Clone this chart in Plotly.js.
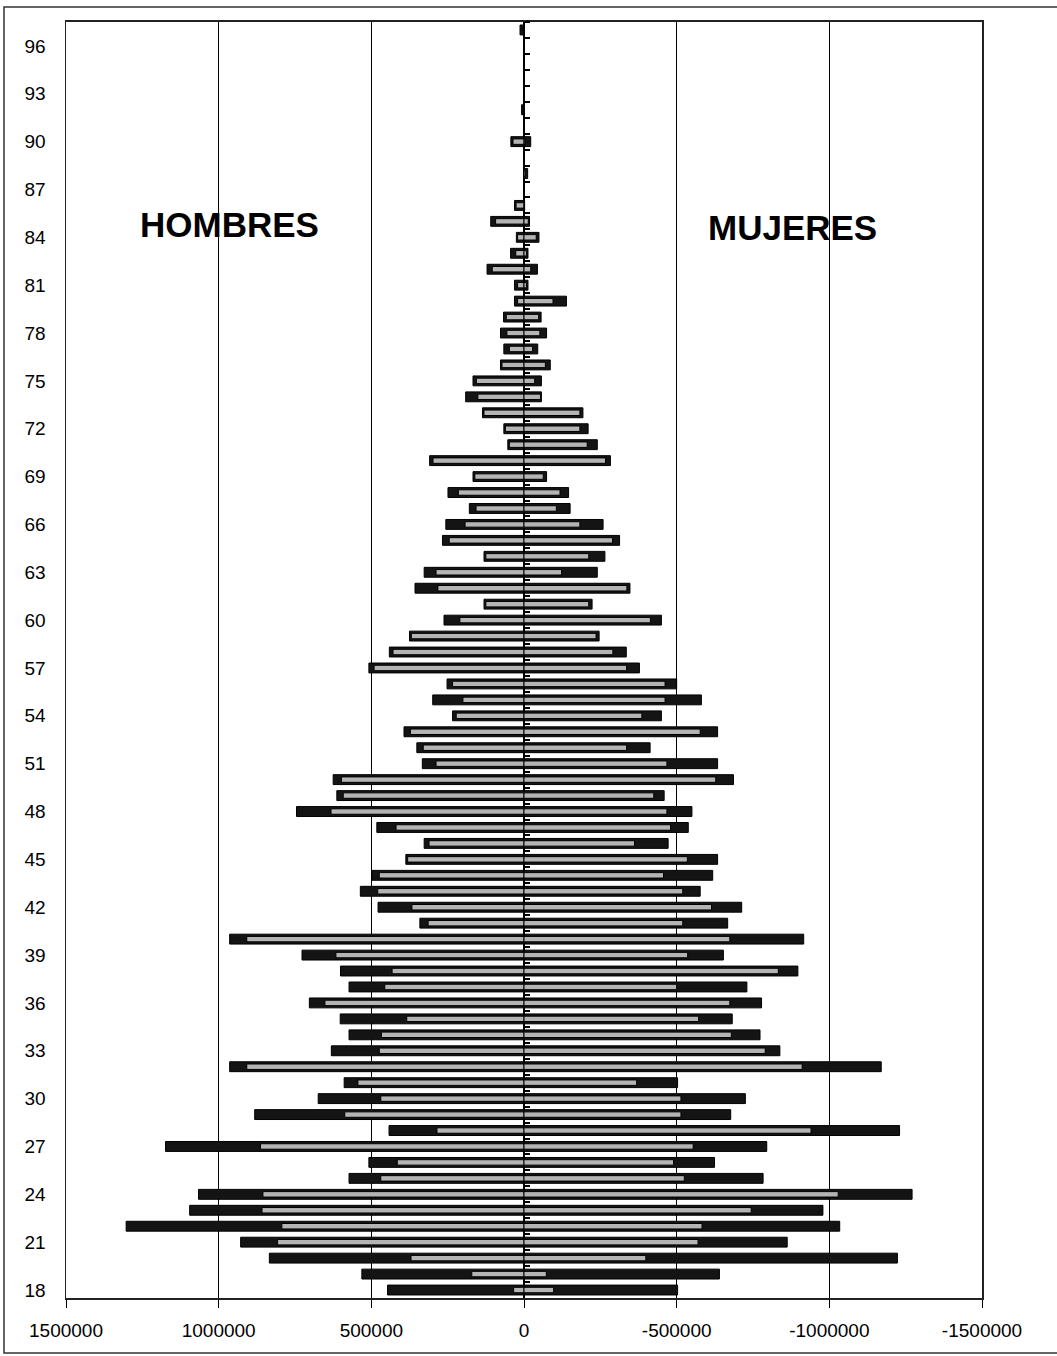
<!DOCTYPE html>
<html>
<head>
<meta charset="utf-8">
<script src="https://cdn.plot.ly/plotly-3.0.1.min.js"></script>
<style>
html,body{margin:0;padding:0;background:#fff;}
#chart{width:1057px;height:1356px;}
</style>
</head>
<body>
<div id="chart"></div>
<script>
const ages = [18,19,20,21,22,23,24,25,26,27,28,29,30,31,32,33,34,35,36,37,38,39,40,41,42,43,44,45,46,47,48,49,50,51,52,53,54,55,56,57,58,59,60,61,62,63,64,65,66,67,68,69,70,71,72,73,74,75,76,77,78,79,80,81,82,83,84,85,86,87,88,89,90,91,92,93,94,95,96,97];

const maleBlack = [447000,531000,834000,928000,1303000,1095000,1066000,573000,508000,1174000,
  442000,882000,674000,589000,964000,631000,573000,602000,703000,573000,
  601000,727000,964000,341000,478000,536000,498000,387000,327000,482000,
  745000,613000,625000,333000,351000,393000,234000,299000,252000,508000,
  441000,375000,262000,131000,357000,327000,131000,267000,256000,179000,
  249000,167000,309000,53000,66000,136000,191000,167000,77000,66000,
  77000,67000,31000,31000,121000,44000,25000,109000,31000,0,
  1000,0,43000,0,8000,0,0,0,0,13000];

const maleGray = [34000,171000,370000,807000,793000,858000,855000,469000,415000,863000,
  285000,587000,469000,544000,908000,474000,467000,384000,652000,456000,
  432000,616000,908000,314000,367000,479000,474000,381000,311000,419000,
  632000,592000,598000,288000,330000,372000,222000,200000,234000,491000,
  429000,369000,210000,125000,282000,288000,125000,245000,193000,157000,
  215000,161000,298000,48000,61000,131000,151000,156000,72000,48000,
  56000,58000,21000,21000,104000,27000,21000,93000,26000,0,
  0,0,36000,0,3000,0,0,0,0,3000];

const femaleBlack = [-503000,-640000,-1223000,-862000,-1034000,-979000,-1271000,-783000,-624000,-795000,
  -1230000,-677000,-725000,-503000,-1170000,-838000,-773000,-682000,-778000,-730000,
  -897000,-653000,-916000,-667000,-713000,-577000,-618000,-634000,-472000,-538000,
  -550000,-459000,-686000,-634000,-413000,-634000,-450000,-581000,-500000,-378000,
  -335000,-246000,-450000,-223000,-347000,-240000,-265000,-313000,-259000,-151000,
  -146000,-74000,-283000,-240000,-210000,-193000,-57000,-57000,-86000,-45000,
  -74000,-56000,-139000,-13000,-44000,-13000,-49000,-18000,-2000,0,
  -12000,0,-22000,0,0,0,0,0,0,-1000];

const femaleGray = [-97000,-73000,-399000,-570000,-583000,-744000,-1029000,-525000,-490000,-554000,
  -940000,-514000,-514000,-369000,-911000,-790000,-679000,-572000,-674000,-500000,
  -833000,-536000,-674000,-520000,-614000,-520000,-457000,-535000,-362000,-480000,
  -468000,-425000,-628000,-468000,-336000,-577000,-386000,-462000,-462000,-336000,
  -291000,-236000,-414000,-212000,-337000,-123000,-212000,-290000,-183000,-106000,
  -118000,-63000,-267000,-207000,-183000,-183000,-54000,-35000,-70000,-28000,
  -52000,-48000,-95000,-8000,-22000,-8000,-40000,-14000,-1000,0,
  -4000,0,-3000,0,0,0,0,0,0,0];

const ageTicks = [18,21,24,27,30,33,36,39,42,45,48,51,54,57,60,63,66,69,72,75,78,81,84,87,90,93,96];
const xTicks = [1500000,1000000,500000,0,-500000,-1000000,-1500000];
const xTickText = ['1500000','1000000','500000','0','-500000','-1000000','-1500000'];
const labelMen = 'HOMBRES';
const labelWomen = 'MUJERES';

const narrow = 'Liberation Sans Narrow, Arial Narrow, Liberation Sans, Arial, sans-serif';
const BLACK = '#141414';
const GRAY = '#b4b4b4';

function barTrace(vals, color, width) {
  return {
    type: 'bar', orientation: 'h', x: vals, y: ages,
    width: width,
    marker: {color: color, line: {color: '#000', width: 1}},
    hoverinfo: 'x+y', showlegend: false
  };
}

const data = [
  barTrace(maleBlack, BLACK, 0.62),
  barTrace(femaleBlack, BLACK, 0.62),
  barTrace(maleGray, GRAY, 0.34),
  barTrace(femaleGray, GRAY, 0.34),
  {type: 'scatter', x: [null], y: [null], yaxis: 'y2', hoverinfo: 'skip', showlegend: false}
];

const layout = {
  width: 1057, height: 1356,
  margin: {l: 66, r: 75, t: 22, b: 58, pad: 0},
  paper_bgcolor: '#fff', plot_bgcolor: '#fff',
  barmode: 'overlay',
  showlegend: false,
  xaxis: {
    range: [1500000, -1500000],
    tickvals: xTicks, ticktext: xTickText,
    showgrid: true, gridcolor: '#000', gridwidth: 1,
    zeroline: true, zerolinecolor: '#000', zerolinewidth: 2,
    showline: true, linecolor: '#222', linewidth: 2, mirror: true,
    ticks: 'outside', ticklen: 8, tickcolor: '#000', tickwidth: 1,
    ticklabelstandoff: 6,
    tickfont: {family: narrow, size: 19, color: '#000'}
  },
  yaxis: {
    range: [17.5, 97.5],
    tickvals: ageTicks, ticktext: ageTicks.map(String),
    showgrid: false, zeroline: false,
    showline: true, linecolor: '#222', linewidth: 1.5, mirror: true,
    ticks: '', ticklabelstandoff: 15,
    tickfont: {family: narrow, size: 19, color: '#000'}
  },
  yaxis2: {
    overlaying: 'y', anchor: 'free', position: 0.5, side: 'right',
    range: [17.5, 97.5],
    tickvals: ages.map(a => a + 0.5),
    ticks: 'outside', ticklen: 5, tickwidth: 2, tickcolor: '#000',
    showticklabels: false, showgrid: false, zeroline: false, showline: false
  },
  annotations: [
    {text: '<b>' + labelMen + '</b>', xref: 'paper', yref: 'paper', x: 0.179, y: 0.841,
     showarrow: false, xanchor: 'center', yanchor: 'middle',
     font: {family: 'Liberation Sans, Arial, sans-serif', size: 35, color: '#000'}},
    {text: '<b>' + labelWomen + '</b>', xref: 'paper', yref: 'paper', x: 0.7926, y: 0.8393,
     showarrow: false, xanchor: 'center', yanchor: 'middle',
     font: {family: 'Liberation Sans, Arial, sans-serif', size: 35, color: '#000'}}
  ],
  shapes: [
    {type: 'rect', xref: 'paper', yref: 'paper', x0: -0.0677, x1: 1.09, y0: -0.0431, y1: 1.0118,
     line: {color: '#333', width: 1.5}, fillcolor: 'rgba(0,0,0,0)', layer: 'above'}
  ]
};

Plotly.newPlot('chart', data, layout, {displayModeBar: false, staticPlot: true});
</script>
</body>
</html>
